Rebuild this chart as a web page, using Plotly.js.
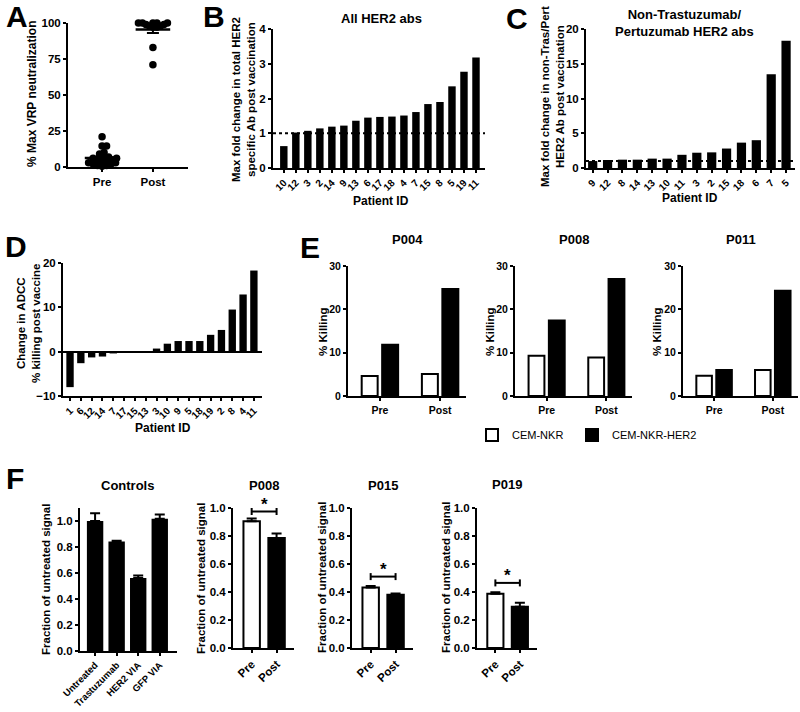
<!DOCTYPE html>
<html>
<head>
<meta charset="utf-8">
<script src="https://cdn.plot.ly/plotly-3.0.1.min.js"></script>
<style>
  body { margin: 0; background: #fff; }
  #fig { width: 800px; height: 712px; }
</style>
</head>
<body>
<div id="fig"></div>
<script>
// ---- data ----
// A: % max VRP neutralization
var aGroups = ['Pre', 'Post'];
var aPre = [21, 14.5, 14.5, 10, 9, 7, 7, 6, 6, 5, 5, 4, 4, 3, 3, 2, 2, 1, 1, 0.5];
var aPost = [100, 100, 100, 100, 100, 99, 99, 98, 98, 97, 97, 83, 71];

// B: all HER2 abs
var bIds = ['10', '12', '3', '2', '14', '9', '13', '6', '17', '18', '4', '7', '15', '8', '5', '19', '11'];
var bVals = [0.63, 1.02, 1.07, 1.14, 1.19, 1.22, 1.36, 1.45, 1.47, 1.48, 1.51, 1.61, 1.84, 1.90, 2.35, 2.77, 3.18];

// C: non-trastuzumab / pertuzumab HER2 abs
var cIds = ['9', '12', '8', '14', '13', '10', '11', '3', '2', '15', '18', '6', '7', '5'];
var cVals = [1.0, 1.15, 1.2, 1.2, 1.35, 1.35, 1.9, 2.2, 2.25, 2.8, 3.65, 4.0, 13.5, 18.3];

var foldBaseline = 1;

// D: change in ADCC
var dIds = ['1', '6', '12', '14', '7', '17', '15', '13', '3', '10', '9', '5', '18', '19', '2', '8', '4', '11'];
var dVals = [-8.0, -2.6, -1.3, -1.1, -0.4, 0, 0, 0, 0.7, 1.8, 2.4, 2.4, 2.4, 3.8, 4.9, 9.5, 12.9, 18.3];

// E: % killing
var eGroups = ['Pre', 'Post'];
var eNames = ['P004', 'P008', 'P011'];
var eNkr = [[4.6, 5.1], [9.3, 8.9], [4.7, 6.0]];
var eHer2 = [[11.8, 24.7], [17.4, 27.0], [6.0, 24.3]];

// F: fraction of untreated signal
var fCtrlCats = ['Untreated', 'Trastuzumab', 'HER2 VIA', 'GFP VIA'];
var fCtrlVals = [1.0, 0.843, 0.562, 1.018];
var fCtrlErr = [0.06, 0.005, 0.018, 0.032];
var fNames = ['P008', 'P015', 'P019'];
var fVals = [[0.905, 0.785], [0.433, 0.38], [0.388, 0.295]];
var fErr = [[0.02, 0.032], [0.01, 0.01], [0.01, 0.028]];
var fBracket = [0.975, 0.51, 0.465];

// ---- helpers ----
var FONT = 'Liberation Sans, Arial, sans-serif';
function hx(p) { return p / 800; }
function vy(p) { return 1 - p / 712; }
function hdom(a, b) { return [hx(a), hx(b)]; }
function vdom(top, bottom) { return [vy(bottom), vy(top)]; }

function axis(extra) {
    var base = {
        showline: true, linecolor: 'black', linewidth: 2,
        ticks: 'outside', ticklen: 3, tickwidth: 2, tickcolor: 'black',
        showgrid: false, zeroline: false, fixedrange: true,
        tickfont: {family: FONT, size: 11.5, weight: 'bold', color: 'black'}
    };
    for (var k in extra) base[k] = extra[k];
    return base;
}
function catAxis(ids, extra) {
    var a = axis({type: 'category', tickmode: 'array', tickvals: ids, ticktext: ids});
    for (var k in extra) a[k] = extra[k];
    return a;
}

// simple beeswarm offsets (in x data units)
function swarm(vals, pxPerX, pxPerY, d) {
    var order = vals.map(function (v, i) { return i; }).sort(function (a, b) { return vals[a] - vals[b]; });
    var placed = [];
    var off = [];
    order.forEach(function (i) {
        var y = vals[i] * pxPerY;
        var cand = 0;
        for (var s = 0; s < 400; s++) {
            cand = (s % 2 ? 1 : -1) * Math.ceil(s / 2) * 0.5;
            var ok = placed.every(function (p) { return Math.hypot(p.x - cand, p.y - y) >= d; });
            if (ok) break;
        }
        placed.push({x: cand, y: y});
        off[i] = cand / pxPerX;
    });
    return off;
}
function mean(a) { return a.reduce(function (s, v) { return s + v; }, 0) / a.length; }
function sem(a) {
    var m = mean(a);
    var sd = Math.sqrt(a.reduce(function (s, v) { return s + (v - m) * (v - m); }, 0) / (a.length - 1));
    return sd / Math.sqrt(a.length);
}

var traces = [];
var annotations = [];
var shapes = [];

// ---- A ----
var aPxX = 120 / 2.36, aPxY = 145 / 100;
var aSpacing = [4.4, 3.6];
[aPre, aPost].forEach(function (vals, g) {
    var off = swarm(vals, aPxX, aPxY, aSpacing[g]);
    traces.push({
        type: 'scatter', mode: 'markers', xaxis: 'x', yaxis: 'y',
        x: vals.map(function (v, i) { return g + off[i]; }), y: vals,
        marker: {color: 'black', size: 7.5}, cliponaxis: false, showlegend: false, hoverinfo: 'y'
    });
    var m = mean(vals);
    traces.push({
        type: 'scatter', mode: 'lines', xaxis: 'x', yaxis: 'y',
        x: [g - 0.34, g + 0.34], y: [m, m],
        line: {color: 'black', width: 2.5}, cliponaxis: false, showlegend: false, hoverinfo: 'skip'
    });
    traces.push({
        type: 'scatter', mode: 'markers', xaxis: 'x', yaxis: 'y',
        x: [g], y: [m], marker: {size: 1, color: 'black'},
        error_y: {type: 'constant', value: sem(vals), color: 'black', thickness: 2, width: 6},
        showlegend: false, hoverinfo: 'skip'
    });
});

// ---- B, C, D bar charts ----
function barTrace(ids, vals, n, w) {
    return {
        type: 'bar', x: ids, y: vals, xaxis: 'x' + n, yaxis: 'y' + n, width: w,
        marker: {color: 'black', line: {width: 0}}, showlegend: false
    };
}
traces.push(barTrace(bIds, bVals, 2, 0.62));
traces.push(barTrace(cIds, cVals, 3, 0.62));
traces.push(barTrace(dIds, dVals, 4, 0.68));

[2, 3].forEach(function (n) {
    shapes.push({
        type: 'line', xref: 'x' + n + ' domain', yref: 'y' + n, x0: 0, x1: 1,
        y0: foldBaseline, y1: foldBaseline, line: {color: 'black', width: 2, dash: 'dot'}, layer: 'above'
    });
});

// ---- E ----
eNames.forEach(function (name, k) {
    var n = 5 + k;
    traces.push({
        type: 'bar', name: 'CEM-NKR', x: eGroups, y: eNkr[k], xaxis: 'x' + n, yaxis: 'y' + n,
        marker: {color: 'white', line: {color: 'black', width: 2}}, showlegend: k === 0, legend: 'legend'
    });
    traces.push({
        type: 'bar', name: 'CEM-NKR-HER2', x: eGroups, y: eHer2[k], xaxis: 'x' + n, yaxis: 'y' + n,
        marker: {color: 'black', line: {color: 'black', width: 2}}, showlegend: k === 0, legend: 'legend2'
    });
});

// ---- F ----
traces.push({
    type: 'bar', x: fCtrlCats, y: fCtrlVals, xaxis: 'x8', yaxis: 'y8', width: 0.76,
    marker: {color: 'black'}, showlegend: false,
    error_y: {type: 'data', array: fCtrlErr, arrayminus: fCtrlVals.map(function () { return 0; }),
        color: 'black', thickness: 2, width: 5}
});
fNames.forEach(function (name, k) {
    var n = 9 + k;
    traces.push({
        type: 'bar', x: ['Pre', 'Post'], y: fVals[k], xaxis: 'x' + n, yaxis: 'y' + n, width: 0.66,
        marker: {color: ['white', 'black'], line: {color: 'black', width: 2}}, showlegend: false,
        error_y: {type: 'data', array: fErr[k], arrayminus: [0, 0], color: 'black', thickness: 2, width: 5}
    });
    traces.push({
        type: 'scatter', mode: 'lines', x: ['Pre', 'Post'], y: [fBracket[k], fBracket[k]],
        xaxis: 'x' + n, yaxis: 'y' + n, line: {color: 'black', width: 2}, showlegend: false,
        error_y: {type: 'constant', value: 0.025, color: 'black', thickness: 2, width: 0}, cliponaxis: false
    });
    annotations.push({
        xref: 'x' + n, yref: 'y' + n, x: 0.5, y: fBracket[k], yshift: 7, text: '*', showarrow: false,
        font: {family: FONT, size: 17, weight: 'bold', color: 'black'}
    });
});

// ---- titles, axis titles and panel letters ----
function label(text, x, y, size, angle) {
    annotations.push({
        xref: 'paper', yref: 'paper', x: hx(x), y: vy(y), text: text, showarrow: false,
        textangle: angle || 0,
        xanchor: 'center', yanchor: 'middle', font: {family: FONT, size: size, weight: 'bold', color: 'black'}
    });
}
label('A', 17, 17, 30); label('B', 214, 17, 30); label('C', 517, 18, 30);
label('D', 16, 246, 30); label('E', 310, 248, 30); label('F', 15, 479, 30);
label('All HER2 abs', 381, 18, 13);
label('Non-Trastuzumab/<br>Pertuzumab HER2 abs', 684, 23, 13);
label('P004', 407, 240, 13); label('P008', 574, 240, 13); label('P011', 741, 240, 13);
label('Controls', 127, 485, 13); label('P008', 264, 485, 13);
label('P015', 383, 485, 13); label('P019', 507, 484, 13);

// axis titles
label('% Max VRP neutralization', 32, 94, 12, -90);
label('Max fold change in total HER2<br>specific Ab post vaccination', 243, 100, 11.5, -90);
label('Max fold change in non-Tras/Pert<br>HER2 Ab post vaccination', 552, 97, 11.5, -90);
label('Change in ADCC<br>% killing post vaccine', 28, 323, 11.5, -90);
label('Patient ID', 381, 201, 12); label('Patient ID', 690, 198, 12); label('Patient ID', 163, 428, 12);
label('% Killing', 323, 332, 11.5, -90); label('% Killing', 490, 332, 11.5, -90); label('% Killing', 657, 332, 11.5, -90);
label('Fraction of untreated signal', 46, 580, 11.5, -90);
label('Fraction of untreated signal', 201, 578, 11.5, -90);
label('Fraction of untreated signal', 322, 578, 11.5, -90);
label('Fraction of untreated signal', 446, 578, 11.5, -90);

var idFont = {family: FONT, size: 10, weight: 'bold', color: 'black'};
var eFont = {family: FONT, size: 10.5, weight: 'bold', color: 'black'};
var legFont = {family: FONT, size: 11, color: 'black'};

var layout = {
    width: 800, height: 712,
    margin: {l: 0, r: 0, t: 0, b: 0},
    paper_bgcolor: 'white', plot_bgcolor: 'white',
    font: {family: FONT, color: 'black'},
    barmode: 'group', bargap: 0.32, bargroupgap: 0.22,
    showlegend: true,
    legend: {orientation: 'h', x: hx(472), y: vy(435), xanchor: 'left', yanchor: 'middle',
        font: legFont, itemwidth: 30, bgcolor: 'rgba(0,0,0,0)'},
    legend2: {orientation: 'h', x: hx(572), y: vy(435), xanchor: 'left', yanchor: 'middle',
        font: legFont, itemwidth: 30, bgcolor: 'rgba(0,0,0,0)'},
    // A
    xaxis: axis({domain: hdom(68, 188), anchor: 'y', range: [-0.67, 1.69], tickvals: [0, 1], ticktext: aGroups}),
    yaxis: axis({domain: vdom(23, 167), anchor: 'x', range: [0, 100], tickvals: [0, 25, 50, 75, 100]}),
    // B
    xaxis2: catAxis(bIds, {domain: hdom(273, 485), anchor: 'y2', range: [-0.9, 16.75],
        tickangle: -45, tickfont: idFont}),
    yaxis2: axis({domain: vdom(29, 168), anchor: 'x2', range: [0, 4], dtick: 1}),
    // C
    xaxis3: catAxis(cIds, {domain: hdom(586, 795), anchor: 'y3', range: [-0.45, 13.6],
        tickangle: -45, tickfont: idFont}),
    yaxis3: axis({domain: vdom(29, 168), anchor: 'x3', range: [0, 20], dtick: 5}),
    // D
    xaxis4: catAxis(dIds, {domain: hdom(63, 262), anchor: 'y4', range: [-0.65, 17.75],
        tickangle: -45, tickfont: idFont}),
    yaxis4: axis({domain: vdom(263, 396), anchor: 'x4', range: [-10, 20], dtick: 10,
        zeroline: true, zerolinecolor: 'black', zerolinewidth: 2}),
    // E
    xaxis5: axis({domain: hdom(348, 466), anchor: 'y5', type: 'category', range: [-0.53, 1.43], tickfont: eFont}),
    yaxis5: axis({domain: vdom(266, 396), anchor: 'x5', range: [0, 30], dtick: 10, tickfont: eFont}),
    xaxis6: axis({domain: hdom(515, 632), anchor: 'y6', type: 'category', range: [-0.53, 1.43], tickfont: eFont}),
    yaxis6: axis({domain: vdom(266, 396), anchor: 'x6', range: [0, 30], dtick: 10, tickfont: eFont}),
    xaxis7: axis({domain: hdom(683, 798), anchor: 'y7', type: 'category', range: [-0.53, 1.43], tickfont: eFont}),
    yaxis7: axis({domain: vdom(266, 396), anchor: 'x7', range: [0, 30], dtick: 10, tickfont: eFont}),
    // F
    xaxis8: catAxis(fCtrlCats, {domain: hdom(80, 177), anchor: 'y8', range: [-0.7, 3.8], tickangle: -45,
        tickfont: {family: FONT, size: 9.5, weight: 'bold', color: 'black'}}),
    yaxis8: axis({domain: vdom(508, 651), anchor: 'x8', range: [0, 1.1], dtick: 0.2, tickformat: '.1f'}),
    xaxis9: axis({domain: hdom(233, 294), anchor: 'y9', type: 'category', range: [-0.75, 1.7], tickangle: -45}),
    yaxis9: axis({domain: vdom(508, 648), anchor: 'x9', range: [0, 1], dtick: 0.2, tickformat: '.1f'}),
    xaxis10: axis({domain: hdom(352, 413), anchor: 'y10', type: 'category', range: [-0.75, 1.7], tickangle: -45}),
    yaxis10: axis({domain: vdom(508, 648), anchor: 'x10', range: [0, 1], dtick: 0.2, tickformat: '.1f'}),
    xaxis11: axis({domain: hdom(477, 537), anchor: 'y11', type: 'category', range: [-0.75, 1.7], tickangle: -45}),
    yaxis11: axis({domain: vdom(508, 648), anchor: 'x11', range: [0, 1], dtick: 0.2, tickformat: '.1f'}),
    annotations: annotations,
    shapes: shapes
};

Plotly.newPlot('fig', traces, layout, {staticPlot: true, displayModeBar: false});
</script>
</body>
</html>
